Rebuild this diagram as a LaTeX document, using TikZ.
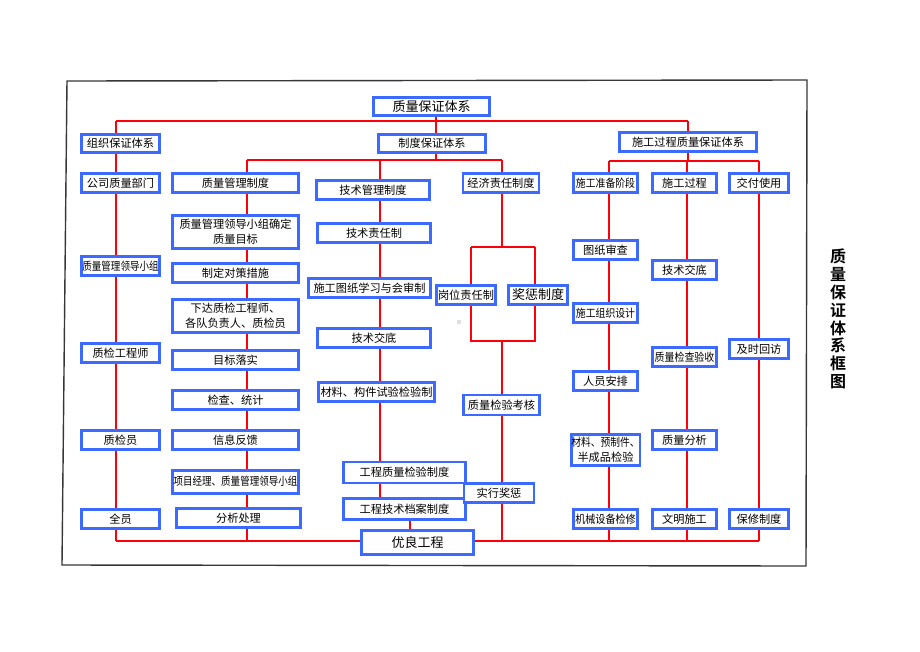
\documentclass[tikz,border=0pt]{standalone}
\usepackage{fontspec}
\setmainfont{Noto Sans CJK SC}[BoldFont={Noto Sans CJK SC Bold}]
\usepackage{graphicx}
\usetikzlibrary{backgrounds}
\definecolor{boxblue}{RGB}{60, 105, 255}
\definecolor{linkred}{RGB}{255, 0, 10}
\definecolor{framegray}{RGB}{55, 55, 55}
\newcommand{\squeeze}[2][0.86]{\scalebox{#1}[1]{#2}}
\tikzset{
  box/.style={draw=boxblue, line width=2.2pt, fill=white, inner sep=0pt, align=center,
              font=\fontsize{11.2}{15}\selectfont},
  bw/.style 2 args={minimum width=#1pt, minimum height=#2pt},
  link/.style={draw=linkred, line width=1.7pt},
  big/.style={font=\fontsize{13}{15}\selectfont},
}

\begin{document}
\begin{tikzpicture}[x=1pt, y=-1pt]
            \useasboundingbox (0,0) rectangle (920,651);
            \draw[framegray, line width=1.4pt] (67,81) -- (807,80) -- (806,566) -- (62,565) -- cycle;
            \fill[gray!25] (457,320) rectangle (461,324);

            \node[box, bw={116}{18}, big] (top)  at (431.5,106.5) {质量保证体系};
            \node[box, bw={78}{18}]       (org)  at (120.5,143.5) {组织保证体系};
            \node[box, bw={107}{18}]      (sys)  at (432,143.5)   {制度保证体系};
            \node[box, bw={137}{19}]      (proc) at (688,142)     {施工过程质量保证体系};

            \node[box, bw={78}{19}] (a1) at (120.5,183) {公司质量部门};
            \node[box, bw={78}{19}] (a2) at (120.5,266) {\squeeze[0.85]{质量管理领导小组}};
            \node[box, bw={78}{19}] (a3) at (120.5,353) {质检工程师};
            \node[box, bw={78}{19}] (a4) at (120.5,440) {质检员};
            \node[box, bw={78}{19}] (a5) at (120.5,519) {全员};

            \node[box, bw={126}{19}] (b1) at (235.5,183) {质量管理制度};
            \node[box, bw={126}{33}] (b2) at (235.5,232) {质量管理领导小组确定\\质量目标};
            \node[box, bw={126}{19}] (b3) at (235.5,273) {制定对策措施};
            \node[box, bw={126}{33}] (b4) at (235.5,316) {下达质检工程师、\\各队负责人、质检员};
            \node[box, bw={126}{19}] (b5) at (235.5,360) {目标落实};
            \node[box, bw={126}{19}] (b6) at (235.5,400) {检查、统计};
            \node[box, bw={126}{19}] (b7) at (235.5,440) {信息反馈};
            \node[box, bw={126}{23}] (b8) at (235.5,482) {\raisebox{3pt}{\squeeze[0.85]{项目经理、质量管理领导小组}}};
            \node[box, bw={124}{19}] (b9) at (238.5,518) {分析处理};

            \node[box, bw={113}{19}]      (c1) at (373,190)     {技术管理制度};
            \node[box, bw={113}{19}]      (c2) at (374,233)     {技术责任制};
            \node[box, bw={122}{19}]      (c3) at (369.5,288)   {施工图纸学习与会审制};
            \node[box, bw={113}{19}]      (c4) at (374,338)     {技术交底};
            \node[box, bw={116}{19}]      (c5) at (376.5,392)   {材料、构件试验检验制};
            \node[box, bw={122}{21}]      (c6) at (404.5,472.5) {工程质量检验制度};
            \node[box, bw={122}{21}]      (c7) at (404.5,509)   {工程技术档案制度};
            \node[box, bw={112}{24}, big] (c8) at (417.5,542.5) {优良工程};

            \node[box, bw={76}{19}]      (d1) at (501,183)   {经济责任制度};
            \node[box, bw={59}{19}]      (d2) at (466,295)   {岗位责任制};
            \node[box, bw={59}{19}, big] (d3) at (538,295)   {奖惩制度};
            \node[box, bw={76}{20}]      (d4) at (501.5,405) {质量检验考核};
            \node[box, bw={70}{19}]      (d5) at (499,493)   {实行奖惩};

            \node[box, bw={64}{19}] (e1) at (605.5,183) {\squeeze[0.88]{施工准备阶段}};
            \node[box, bw={64}{19}] (e2) at (605.5,250) {图纸审查};
            \node[box, bw={64}{19}] (e3) at (605.5,313) {\squeeze[0.88]{施工组织设计}};
            \node[box, bw={64}{19}] (e4) at (605.5,381) {人员安排};
            \node[box, bw={64}{31}] (e5) at (605.5,450) {\squeeze[0.87]{材料、预制件、}\\半成品检验};
            \node[box, bw={64}{19}] (e6) at (605.5,519) {\squeeze[0.9]{机械设备检修}};

            \node[box, bw={64}{19}] (f1) at (684.5,183) {施工过程};
            \node[box, bw={64}{19}] (f2) at (684.5,270) {技术交底};
            \node[box, bw={64}{19}] (f3) at (684.5,357) {\squeeze[0.89]{质量检查验收}};
            \node[box, bw={64}{19}] (f4) at (684.5,440) {质量分析};
            \node[box, bw={64}{19}] (f5) at (684.5,519) {文明施工};

            \node[box, bw={59}{19}] (g1) at (759,183) {交付使用};
            \node[box, bw={59}{19}] (g2) at (759,349) {及时回访};
            \node[box, bw={59}{19}] (g3) at (759,519) {保修制度};

            \node[font=\fontsize{16}{17.8}\selectfont\bfseries, align=center, inner sep=0pt] (title) at (838,319)
                 {质\\量\\保\\证\\体\\系\\框\\图};

            \coordinate (tl) at (116,121);  \coordinate (tr) at (688,121);
            \coordinate (sl) at (247,160);  \coordinate (sr) at (502,160);
            \coordinate (sm) at (436,160);  \coordinate (sc) at (380,160);
            \coordinate (pl) at (609,161);  \coordinate (pr) at (759,161);
            \coordinate (pc) at (687,161);
            \coordinate (ds) at (502,247);  \coordinate (dl) at (471,247);
            \coordinate (dr) at (535,247);  \coordinate (dj) at (502,341);
            \coordinate (ck) at (410,541);
            \coordinate (bl) at (116,541);  \coordinate (br) at (759,541);

            \begin{pgfonlayer}{background}
            \draw[link] (tl) -- (tr);
            \draw[link] (top.south -| sm) -- (sm);
            \draw[link] (tr) -- (tr |- pl);
            \draw[link] (sl) -- (sr);
            \draw[link] (pl) -- (pr);
            \draw[link] (tl) -- (bl);
            \draw[link] (sl) -- (sl |- bl);
            \draw[link] (sc) -- (sc |- c7);
            \draw[link] (c7.south -| ck) -- (ck);
            \draw[link] (sr) -- (ds);
            \draw[link] (dl) -- (dr);
            \draw[link] (dl) -- (dl |- dj) -- (dr |- dj) -- (dr);
            \draw[link] (dj) -- (dj |- bl);
            \draw[link] (pl) -- (pl |- bl);
            \draw[link] (pc) -- (pc |- bl);
            \draw[link] (pr) -- (br);
            \draw[link] (bl) -- (br);
            \end{pgfonlayer}
        \end{tikzpicture}
\end{document}
